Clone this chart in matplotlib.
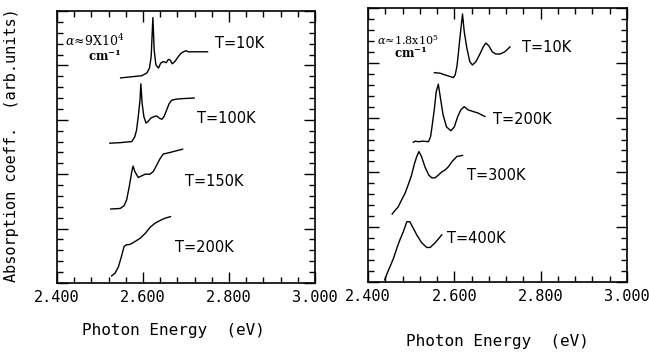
import matplotlib
matplotlib.use("Agg")
import matplotlib.pyplot as plt
from matplotlib.ticker import MultipleLocator
from matplotlib.transforms import ScaledTranslation

plt.rcParams["mathtext.fontset"] = "dejavuserif"

# left panel: alpha ~ 9x10^4 cm^-1
l10_x = [2.548, 2.597, 2.609, 2.615, 2.619, 2.623, 2.626, 2.630, 2.636, 2.641, 2.647, 2.654,
         2.659, 2.663, 2.668, 2.674, 2.682, 2.688, 2.694, 2.700, 2.705, 2.725, 2.750]
l10_y = [3.77, 3.81, 3.86, 3.95, 4.16, 4.88, 4.28, 4.01, 3.95, 4.04, 4.07, 4.05,
         4.11, 4.10, 4.03, 4.07, 4.16, 4.22, 4.25, 4.27, 4.25, 4.25, 4.25]
l100_x = [2.523, 2.547, 2.574, 2.581, 2.585, 2.589, 2.593, 2.595, 2.598, 2.602, 2.607, 2.612,
          2.618, 2.626, 2.632, 2.638, 2.644, 2.649, 2.655, 2.661, 2.667, 2.678, 2.694, 2.719]
l100_y = [2.57, 2.58, 2.60, 2.69, 2.81, 3.06, 3.36, 3.66, 3.30, 3.06, 2.94, 2.97,
          3.03, 3.06, 3.07, 3.03, 3.01, 3.06, 3.18, 3.30, 3.36, 3.38, 3.39, 3.40]
l150_x = [2.525, 2.547, 2.556, 2.562, 2.568, 2.574, 2.577, 2.581, 2.589, 2.597, 2.605, 2.616,
          2.624, 2.632, 2.640, 2.647, 2.663, 2.692]
l150_y = [1.36, 1.37, 1.42, 1.53, 1.77, 2.05, 2.15, 2.05, 1.94, 1.97, 2.00, 2.00,
          2.05, 2.17, 2.29, 2.37, 2.40, 2.46]
l200_x = [2.527, 2.535, 2.543, 2.551, 2.556, 2.561, 2.570, 2.581, 2.593, 2.605, 2.616, 2.628,
          2.640, 2.651, 2.664]
l200_y = [0.13, 0.18, 0.30, 0.52, 0.67, 0.70, 0.71, 0.76, 0.82, 0.91, 1.02, 1.10,
          1.15, 1.19, 1.22]

# right panel: alpha ~ 1.8x10^5 cm^-1
r10_x = [2.554, 2.567, 2.578, 2.590, 2.598, 2.602, 2.606, 2.609, 2.613, 2.619, 2.623, 2.629,
         2.636, 2.642, 2.650, 2.660, 2.667, 2.673, 2.680, 2.688, 2.696, 2.706, 2.717, 2.729]
r10_y = [3.82, 3.81, 3.78, 3.75, 3.73, 3.78, 3.93, 4.14, 4.45, 4.89, 4.57, 4.27,
         4.02, 3.96, 4.02, 4.17, 4.29, 4.36, 4.31, 4.20, 4.16, 4.16, 4.20, 4.29]
r200_x = [2.505, 2.509, 2.517, 2.528, 2.540, 2.545, 2.549, 2.554, 2.558, 2.563, 2.568, 2.574,
          2.582, 2.592, 2.600, 2.608, 2.615, 2.623, 2.632, 2.644, 2.656, 2.663, 2.671]
r200_y = [2.55, 2.57, 2.56, 2.57, 2.56, 2.65, 2.87, 3.17, 3.47, 3.61, 3.35, 3.05,
          2.83, 2.76, 2.83, 3.02, 3.14, 3.20, 3.14, 3.11, 3.08, 3.05, 3.02]
r300_x = [2.456, 2.463, 2.470, 2.478, 2.486, 2.493, 2.501, 2.507, 2.513, 2.518, 2.524, 2.532,
          2.541, 2.548, 2.555, 2.563, 2.571, 2.578, 2.586, 2.595, 2.606, 2.619]
r300_y = [1.24, 1.31, 1.37, 1.50, 1.62, 1.77, 1.95, 2.14, 2.29, 2.38, 2.29, 2.10,
          1.95, 1.90, 1.90, 1.95, 2.01, 2.04, 2.10, 2.20, 2.29, 2.31]
r400_x = [2.439, 2.443, 2.451, 2.459, 2.467, 2.474, 2.482, 2.490, 2.497, 2.505, 2.513, 2.524,
          2.536, 2.544, 2.555, 2.571]
r400_y = [0.04, 0.13, 0.28, 0.43, 0.62, 0.77, 0.92, 1.10, 1.10, 0.98, 0.86, 0.72,
          0.63, 0.63, 0.71, 0.86]

left_labels = ["T=10K", "T=100K", "T=150K", "T=200K"]
left_lab_x = [2.767, 2.726, 2.698, 2.674]
left_lab_y = [4.41, 3.03, 1.86, 0.66]
right_labels = ["T=10K", "T=200K", "T=300K", "T=400K"]
right_lab_x = [2.757, 2.690, 2.629, 2.583]
right_lab_y = [4.27, 2.96, 1.95, 0.79]

xticks = [2.4, 2.6, 2.8, 3.0]
xticklabels = ["2.400", "2.600", "2.800", "3.000"]

mono = "DejaVu Sans Mono"

fig = plt.figure(figsize=(6.49, 3.58), dpi=100)
axl = fig.add_axes([0.0878, 0.2095, 0.3976, 0.7598])
axr = fig.add_axes([0.567, 0.2123, 0.399, 0.7654])
shift = ScaledTranslation(-3 / 72, 0, fig.dpi_scale_trans)


def style(ax):
    ax.set_xlim(2.4, 3.0)
    ax.set_ylim(0, 5)
    ax.set_xticks(xticks)
    ax.set_xticklabels(xticklabels, family=mono, fontsize=11)
    for lab in ax.get_xticklabels():
        lab.set_transform(lab.get_transform() + shift)
    ax.xaxis.set_minor_locator(MultipleLocator(0.04))
    ax.yaxis.set_major_locator(MultipleLocator(1))
    ax.yaxis.set_minor_locator(MultipleLocator(0.2))
    ax.set_yticklabels([])
    ax.tick_params(which="both", direction="in", top=True, right=True, width=1.0)
    ax.tick_params(axis="x", which="major", length=8, pad=5)
    ax.tick_params(axis="y", which="major", length=8, labelleft=False)
    ax.tick_params(which="minor", length=4)
    for s in ax.spines.values():
        s.set_linewidth(1.2)


style(axl)
style(axr)

for xs, ys in [(l10_x, l10_y), (l100_x, l100_y), (l150_x, l150_y), (l200_x, l200_y)]:
    axl.plot(xs, ys, color="black", lw=1.0)
for xs, ys in [(r10_x, r10_y), (r200_x, r200_y), (r300_x, r300_y), (r400_x, r400_y)]:
    axr.plot(xs, ys, color="black", lw=1.0)

for t, x, y in zip(left_labels, left_lab_x, left_lab_y):
    axl.text(x, y, t, fontsize=10.5, va="center", ha="left")
for t, x, y in zip(right_labels, right_lab_x, right_lab_y):
    axr.text(x, y, t, fontsize=10.5, va="center", ha="left")

axl.text(2.418, 4.45, r"$\alpha\!\approx\!9\mathrm{X}10^4$", fontsize=9,
         va="center", ha="left")
axl.text(2.512, 4.18, r"$\mathbf{cm^{-1}}$", fontsize=8.5, va="center", ha="center")
axr.text(2.420, 4.42, r"$\alpha\!\approx\!1.8\mathrm{x}10^5$", fontsize=8,
         va="center", ha="left")
axr.text(2.500, 4.17, r"$\mathbf{cm^{-1}}$", fontsize=8.5, va="center", ha="center")

fig.text(0.018, 0.595, "Absorption coeff.  (arb.units)", rotation=90, family=mono,
         fontsize=11, ha="center", va="center")
fig.text(0.267, 0.078, "Photon Energy  (eV)", family=mono, fontsize=11.5, ha="center", va="center")
fig.text(0.767, 0.047, "Photon Energy  (eV)", family=mono, fontsize=11.5, ha="center", va="center")

fig.savefig("out.png", dpi=100)
